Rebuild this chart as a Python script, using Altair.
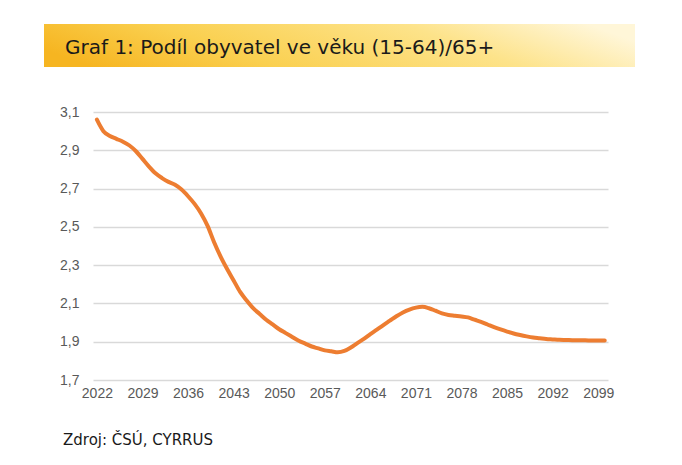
import altair as alt
import pandas as pd

years = list(range(2022, 2101))
ratio = [
    3.06, 3.00, 2.975, 2.96, 2.945, 2.925, 2.895, 2.855, 2.815, 2.78,
    2.755, 2.735, 2.72, 2.695, 2.66, 2.62, 2.57, 2.505, 2.42, 2.345,
    2.28, 2.22, 2.16, 2.115, 2.075, 2.045, 2.015, 1.99, 1.965, 1.945,
    1.925, 1.905, 1.89, 1.875, 1.865, 1.855, 1.85, 1.845, 1.852, 1.87,
    1.893, 1.915, 1.94, 1.963, 1.987, 2.01, 2.033, 2.053, 2.068, 2.078,
    2.082, 2.075, 2.062, 2.048, 2.04, 2.036, 2.032, 2.027, 2.015, 2.004,
    1.99, 1.976, 1.964, 1.953, 1.943, 1.935, 1.928, 1.922, 1.918, 1.914,
    1.912, 1.91, 1.909, 1.908, 1.907, 1.907, 1.906, 1.906, 1.906,
]
x_ticks = [2022, 2029, 2036, 2043, 2050, 2057, 2064, 2071, 2078, 2085, 2092, 2099]
y_ticks = [1.7, 1.9, 2.1, 2.3, 2.5, 2.7, 2.9, 3.1]
title_text = "Graf 1: Podíl obyvatel ve věku (15-64)/65+"
source_text = "Zdroj: ČSÚ, CYRRUS"

df = pd.DataFrame({"year": years, "ratio": ratio})
one = pd.DataFrame({"k": [1]})

line = alt.Chart(df).mark_line(
    color="#ED7D31", strokeWidth=4, interpolate="monotone", strokeCap="round"
).encode(
    x=alt.X("year:Q",
            scale=alt.Scale(domain=[2021.4, 2100.5], nice=False, zero=False),
            axis=alt.Axis(values=x_ticks, title=None, grid=False, domain=False,
                          ticks=False, labelPadding=6, format="d",
                          labelFontSize=14, labelColor="#595959",
                          labelFont="Liberation Sans")),
    y=alt.Y("ratio:Q",
            scale=alt.Scale(domain=[1.7, 3.1], nice=False, zero=False),
            axis=alt.Axis(values=y_ticks, title=None, grid=True, gridColor="#D9D9D9",
                          gridWidth=1.3, domain=False, ticks=False, labelPadding=14,
                          labelExpr="replace(format(datum.value, '.1f'), '.', ',')",
                          labelFontSize=14, labelColor="#595959",
                          labelFont="Liberation Sans")),
)

band = alt.Chart(one).mark_rect(
    color=alt.LinearGradient(
        gradient="linear", x1=0, x2=1, y1=0.6, y2=0.4,
        stops=[alt.GradientStop(color="#F6B521", offset=0),
               alt.GradientStop(color="#FAD050", offset=0.3),
               alt.GradientStop(color="#FDE38A", offset=0.7),
               alt.GradientStop(color="#FFF6D8", offset=1)],
    )
).encode(x=alt.value(-49), x2=alt.value(542), y=alt.value(-88), y2=alt.value(-45))

title = alt.Chart(one).mark_text(
    text=title_text, align="left", baseline="alphabetic", fontSize=20,
    font="DejaVu Sans", color="#1A1A1A"
).encode(x=alt.value(-28), y=alt.value(-58))

source = alt.Chart(one).mark_text(
    text=source_text, align="left", baseline="middle", fontSize=15,
    font="DejaVu Sans", color="#1A1A1A"
).encode(x=alt.value(-30), y=alt.value(328))

chart = alt.layer(band, title, line, source).properties(
    width=515, height=268,
    autosize=alt.AutoSizeParams(type="none"),
    padding={"left": 85, "top": 104, "right": 60, "bottom": 68},
    background="white",
).configure_view(stroke=None)

chart.save("out.html", embed_options={"renderer": "svg", "actions": False})
